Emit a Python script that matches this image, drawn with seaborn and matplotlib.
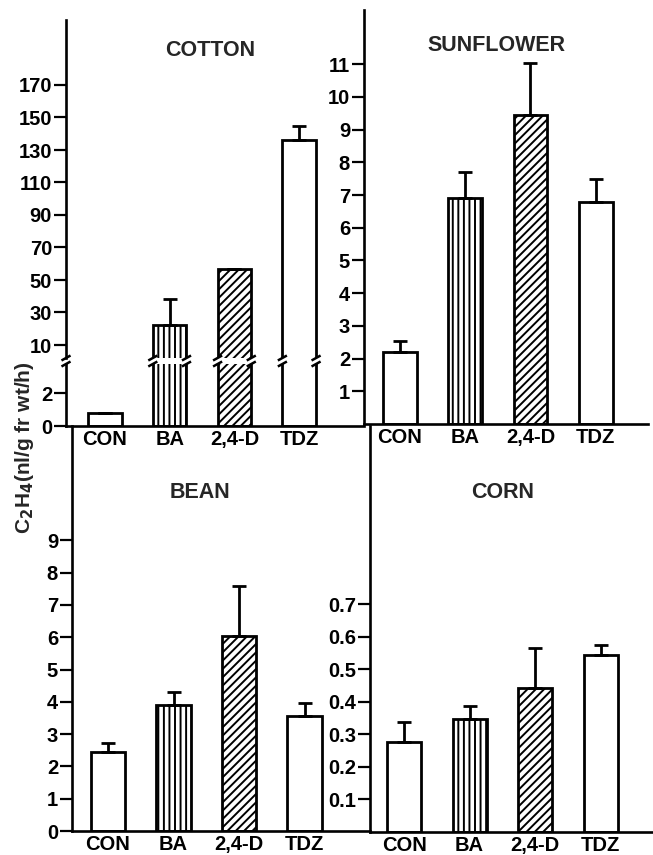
import numpy as np
import pandas as pd
import matplotlib
matplotlib.use("Agg")
import matplotlib.pyplot as plt
import matplotlib.transforms as mtransforms
import seaborn as sns

# Datos
tratamientos = ["CON", "BA", "2,4-D", "TDZ"]
tramas = ["", "|||", "////", ""]

algodon = [0.8, 22, 57, 136]
algodon_err = [0, 16, 0, 9]
girasol = [2.2, 6.9, 9.45, 6.8]
girasol_err = [0.35, 0.8, 1.6, 0.7]
frijol = [2.46, 3.9, 6.05, 3.57]
frijol_err = [0.27, 0.4, 1.55, 0.4]
maiz = [0.277, 0.347, 0.443, 0.543]
maiz_err = [0.062, 0.042, 0.123, 0.032]

sns.set_style("ticks")
plt.rcParams["font.family"] = ["Liberation Sans", "DejaVu Sans"]
plt.rcParams["font.weight"] = "bold"
plt.rcParams["hatch.linewidth"] = 1.4
plt.rcParams["hatch.color"] = "black"

W, H = 653, 855
fig = plt.figure(figsize=(W / 100, H / 100), dpi=100)


def caja(izq, der, arriba, abajo):
    # pixeles -> fraccion de figura
    return [izq / W, (H - abajo) / H, (der - izq) / W, (abajo - arriba) / H]


def barras(ax, vals, errs, xlim, ylim, yticks, fmt="{:g}"):
    df = pd.DataFrame({"trat": tratamientos, "val": vals})
    sns.barplot(data=df, x="trat", y="val", color="white", edgecolor="black",
                linewidth=2, width=0.52, errorbar=None, ax=ax)
    for p, h in zip(ax.patches, tramas):
        p.set_hatch(h)
        p.set_facecolor("white")
    x = np.arange(len(vals))
    ax.errorbar(x, vals, yerr=[np.zeros(len(vals)), errs], fmt="none",
                ecolor="black", elinewidth=2, capsize=5, capthick=2)
    ax.set_xlim(*xlim)
    ax.set_ylim(*ylim)
    ax.set_yticks(yticks)
    ax.set_yticklabels([fmt.format(t) for t in yticks])
    ax.set_xlabel("")
    ax.set_ylabel("")
    sns.despine(ax=ax)
    for s in ["left", "bottom"]:
        ax.spines[s].set_linewidth(1.9)
        ax.spines[s].set_color("black")
    ax.tick_params(axis="y", length=9, width=1.6, pad=1, labelsize=14.5,
                   direction="out", colors="black")
    ax.tick_params(axis="x", length=0, pad=3, labelsize=14.5, colors="black")
    for t in ax.get_xticklabels() + ax.get_yticklabels():
        t.set_fontweight("bold")
    ax.patch.set_alpha(0)


# COTTON (eje cortado)
ax_ab = fig.add_axes(caja(66, 364, 364, 426))
ax_ar = fig.add_axes(caja(66, 364, 20, 358))
barras(ax_ab, algodon, algodon_err, (-0.6, 4.0), (0, 3.76), [0, 2])
barras(ax_ar, algodon, algodon_err, (-0.6, 4.0), (2.0, 210),
       [10, 30, 50, 70, 90, 110, 130, 150, 170])
ax_ar.spines["bottom"].set_visible(False)
ax_ar.set_xticks([])
ax_ar.text(0.483, 0.911, "COTTON", transform=ax_ar.transAxes, ha="center",
           va="center", fontsize=15.5, fontweight="bold")

# marcas de corte
xs_corte = [-0.6] + [i + s * 0.26 for i in range(1, 4) for s in (-1, 1)]
for ax, alto, yb in [(ax_ab, 62, 1.0), (ax_ar, 338, 0.0)]:
    tr = mtransforms.blended_transform_factory(ax.transData, ax.transAxes)
    for xc in xs_corte:
        ax.plot([xc - 0.07, xc + 0.07], [yb - 2.5 / alto, yb + 2.5 / alto],
                color="black", lw=1.8, transform=tr, clip_on=False,
                solid_capstyle="butt")

# SUNFLOWER
ax_g = fig.add_axes(caja(364, 648, 10, 424))
barras(ax_g, girasol, girasol_err, (-0.55, 3.8), (0, 12.66), list(range(1, 12)))
ax_g.text(0.468, 0.915, "SUNFLOWER", transform=ax_g.transAxes, ha="center",
          va="center", fontsize=15.5, fontweight="bold")

# BEAN
ax_f = fig.add_axes(caja(72, 370, 426, 831))
barras(ax_f, frijol, frijol_err, (-0.55, 4.0), (0, 12.54), list(range(0, 10)))
ax_f.text(0.43, 0.835, "BEAN", transform=ax_f.transAxes, ha="center",
          va="center", fontsize=15.5, fontweight="bold")

# CORN
ax_m = fig.add_axes(caja(370, 653, 426, 832))
barras(ax_m, maiz, maiz_err, (-0.52, 3.8), (0, 1.249),
       [0.1, 0.2, 0.3, 0.4, 0.5, 0.6, 0.7], fmt="{:.1f}")
ax_m.text(0.47, 0.837, "CORN", transform=ax_m.transAxes, ha="center",
          va="center", fontsize=15.5, fontweight="bold")

fig.text(25 / W, 1 - 448 / H, r"C$_\mathbf{2}$H$_\mathbf{4}$(nl/g fr wt/h)",
         rotation=90, ha="center", va="center", fontsize=15, fontweight="bold")

fig.savefig("out.png", dpi=100, facecolor="white")
